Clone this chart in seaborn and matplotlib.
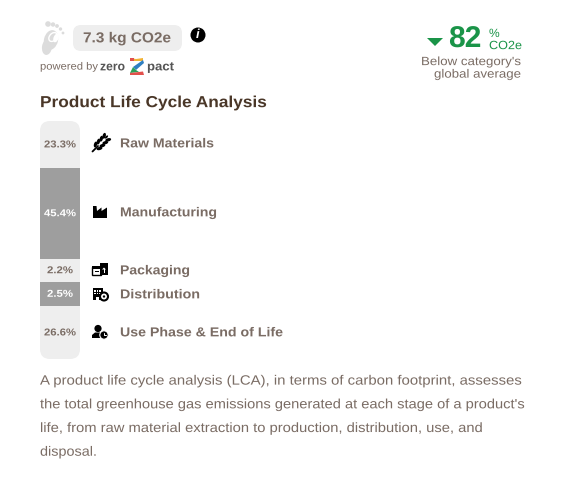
"""
Product life cycle analysis card
"""
import matplotlib
matplotlib.use('Agg')
import matplotlib.pyplot as plt
import seaborn as sns
from matplotlib.patches import Circle, Ellipse, FancyBboxPatch, Polygon, Rectangle
from matplotlib.patheffects import AbstractPathEffect
from matplotlib.transforms import Affine2D

stages = ['Raw Materials', 'Manufacturing', 'Packaging', 'Distribution', 'Use Phase & End of Life']
shares = [23.3, 45.4, 2.2, 2.5, 26.6]
# the two small stages are drawn at a minimum height in the original
drawn_heights = [23.3, 45.4, 11.5, 12.0, 26.6]
bar_colors = ['#eeeeee', '#9e9e9e', '#eeeeee', '#9e9e9e', '#eeeeee']
share_colors = ['#7a6c64', '#ffffff', '#7a6c64', '#ffffff', '#7a6c64']
label_y = [144, 213, 271, 295, 333]
label_w = [94, 97, 70, 80, 163]

footprint = '7.3 kg CO2e'
delta = '82'
paragraph = [
    "A product life cycle analysis (LCA), in terms of carbon footprint, assesses",
    "the total greenhouse gas emissions generated at each stage of a product's",
    "life, from raw material extraction to production, distribution, use, and",
    "disposal.",
]
paragraph_w = [482, 485, 443, 57]

BROWN = '#7a6c64'
DARK = '#4a3728'
GREEN = '#1a9448'
W, H = 584, 480


def px(size):
    return size * 0.72


class Widen(AbstractPathEffect):
    """Stretch a text sideways, stands in for css letter-spacing"""

    def __init__(self, x0, factor):
        super().__init__()
        self.x0 = x0
        self.factor = factor

    def draw_path(self, renderer, gc, tpath, affine, rgbFace=None):
        stretch = Affine2D().translate(-self.x0, 0).scale(self.factor, 1).translate(self.x0, 0)
        renderer.draw_path(gc, tpath, affine + stretch, rgbFace)


def fit_text(ax, x, y, s, width, size, **kwargs):
    """Put text at x, y and widen it to the given pixel width"""
    t = ax.text(x, y, s, fontsize=px(size), va='center', **kwargs)
    box = t.get_window_extent(ax.figure.canvas.get_renderer())
    x0 = ax.transData.transform((x, y))[0]
    t.set_path_effects([Widen(x0, width / box.width)])
    return t


def draw_icons(ax):
    # wheat
    for i in range(4):
        ax.add_patch(Ellipse((95.5 + i * 2.9, 144.5 - i * 2.9), 6, 3.2, angle=-75, color='black', lw=0))
        ax.add_patch(Ellipse((99.5 + i * 2.9, 148.5 - i * 2.9), 6, 3.2, angle=-15, color='black', lw=0))
    ax.plot([92.5, 98], [151.5, 146], color='black', lw=1.3)
    ax.add_patch(Ellipse((106.5, 137), 4, 2, angle=-45, color='black', lw=0))
    # factory
    ax.add_patch(Polygon([(93, 218), (93, 206), (96.5, 206), (97, 211), (101.5, 207.5), (101.5, 211),
                          (107, 207.5), (107, 218)], color='black', lw=0))
    # packaging
    ax.add_patch(Rectangle((92, 267), 9, 8, fc='white', ec='black', lw=1))
    ax.add_patch(Rectangle((92, 266), 9, 2.5, color='black', lw=0))
    ax.add_patch(Rectangle((94.5, 270.5), 4, 1.2, color='black', lw=0))
    ax.add_patch(Rectangle((100, 263), 8, 12, color='black', lw=0))
    ax.add_patch(Rectangle((103.5, 268.5), 1, 4.5, color='white', lw=0))
    ax.add_patch(Polygon([(102, 269.5), (106, 269.5), (104, 267.5)], color='white', lw=0))
    # distribution
    ax.add_patch(Rectangle((92.5, 288), 10, 12, color='black', lw=0))
    for col in range(3):
        for row in range(2):
            ax.add_patch(Rectangle((94 + col * 2.6, 290 + row * 2.6), 1.5, 1.5, color='white', lw=0))
    ax.add_patch(Rectangle((96, 296.5), 3, 3.5, color='white', lw=0))
    ax.add_patch(Circle((104, 296.5), 4, fc='white', ec='black', lw=1.5))
    ax.add_patch(Circle((104, 296.5), 1.2, color='black', lw=0))
    # person with clock
    ax.add_patch(Circle((98, 328.5), 3.6, color='black', lw=0))
    ax.add_patch(Polygon([(92, 338), (92, 335), (95, 332.5), (101, 332.5), (103, 334), (103, 338)],
                         color='black', lw=0))
    ax.add_patch(Circle((104, 335), 4.2, fc='black', ec='white', lw=0.8))
    ax.plot([104, 104, 106], [333, 335.3, 335.3], color='white', lw=0.7)


def draw_header(ax):
    # footprint icon
    foot = '#dcdcdc'
    ax.add_patch(Ellipse((51, 40), 14, 20, angle=14, color=foot, lw=0))
    ax.add_patch(Ellipse((47, 47), 10, 16, angle=8, color=foot, lw=0))
    ax.add_patch(Ellipse((53, 37), 7, 10, angle=40, fc='none', ec='white', lw=1))
    ax.add_patch(Ellipse((56, 38), 5, 9, angle=20, color='#ffffff', lw=0))
    for x, y, r in [(48, 24, 2.8), (53, 24.5, 2.2), (57, 26, 1.9), (60.5, 29, 1.7), (63, 33, 1.4)]:
        ax.add_patch(Circle((x, y), r, color=foot, lw=0))

    ax.add_patch(FancyBboxPatch((73, 25), 109, 26, boxstyle='round,pad=0,rounding_size=8',
                                fc='#eeeeee', ec='none'))
    fit_text(ax, 83, 38.5, footprint, 88, 14.5, fontweight='bold', color=BROWN)

    # info mark
    ax.add_patch(Circle((198, 35), 7.5, color='black', lw=0))
    ax.text(198, 35, 'i', fontsize=px(13), color='white', fontweight='bold', style='italic',
            ha='center', va='center')

    fit_text(ax, 40, 67, 'powered by', 58, 10.5, color=BROWN)
    fit_text(ax, 100, 67, 'zero', 25, 12.5, color='#555555', fontweight='bold')
    fit_text(ax, 147, 67, 'pact', 27, 12.5, color='#555555', fontweight='bold')
    # logo
    ax.add_patch(Polygon([(130, 58), (136, 59), (143, 58), (143, 61), (130, 61)], color='#f2b233', lw=0))
    ax.add_patch(Polygon([(130, 58), (134, 58), (134, 61), (130, 61)], color='#e2504c', lw=0))
    ax.add_patch(Polygon([(143, 60), (144, 63), (136, 70), (133, 67)], color='#2f7fc1', lw=0))
    ax.add_patch(Polygon([(133, 67), (136, 70), (139, 72), (130, 73)], color='#2ca05a', lw=0))
    ax.add_patch(Polygon([(130, 73), (143, 71.5), (144, 75), (130, 75)], color='#e2504c', lw=0))

    fit_text(ax, 40, 103, 'Product Life Cycle Analysis', 227, 16, fontweight='bold', color=DARK)

    # below average block
    ax.add_patch(Polygon([(427, 38), (443, 38), (435, 46)], color=GREEN, lw=0))
    ax.text(448.5, 40, delta, fontsize=px(30), fontweight='bold', color=GREEN, va='center')
    ax.text(489, 33.5, '%', fontsize=px(12), color=GREEN, va='center')
    fit_text(ax, 489, 46, 'CO2e', 33, 12, color=GREEN)
    fit_text(ax, 521, 62, "Below category's", 100, 12, color=BROWN, ha='right')
    fit_text(ax, 521, 74.5, 'global average', 87, 12, color=BROWN, ha='right')


def main():
    sns.set_theme(style='white')
    plt.rcParams['font.family'] = ['Liberation Sans', 'DejaVu Sans']
    plt.rcParams['text.hinting'] = 'no_hinting'

    fig = plt.figure(figsize=(W / 100, H / 100), dpi=100, facecolor='white')
    page = fig.add_axes([0, 0, 1, 1])
    page.set_xlim(0, W)
    page.set_ylim(H, 0)
    page.axis('off')
    page.set_zorder(2)

    bar_top, bar_h = 121, 238
    ax = fig.add_axes([40 / W, 1 - (bar_top + bar_h) / H, 40 / W, bar_h / H])
    clip = FancyBboxPatch((40, bar_top), 40, bar_h, boxstyle='round,pad=0,rounding_size=10',
                          transform=page.transData, fc='none', ec='none')
    page.add_patch(clip)

    bottom = 0
    for h, color in zip(drawn_heights, bar_colors):
        sns.barplot(x=['stage'], y=[h], bottom=bottom, color=color, saturation=1, width=1,
                    linewidth=0, ax=ax)
        bottom += h
    for bar in ax.patches:
        bar.set_clip_path(clip)
    ax.set_xlim(-0.5, 0.5)
    ax.set_ylim(bottom, 0)
    ax.axis('off')

    # share labels go on the page so they can be fitted in pixels
    top = bar_top
    for h, share, txt_color in zip(drawn_heights, shares, share_colors):
        mid = top + h * bar_h / bottom / 2
        width = 32 if share >= 10 else 26
        fit_text(page, 60 - width / 2, mid + 0.5, f'{share}%', width, 10, fontweight='bold',
                 color=txt_color)
        top += h * bar_h / bottom

    for stage, y, w in zip(stages, label_y, label_w):
        fit_text(page, 120, y, stage, w, 13, fontweight='bold', color=BROWN)

    draw_icons(page)
    draw_header(page)

    for i, (line, w) in enumerate(zip(paragraph, paragraph_w)):
        fit_text(page, 40, 381 + i * 23.7, line, w, 13.5, color=BROWN)

    fig.savefig('out.png', dpi=100)
    plt.close(fig)


if __name__ == "__main__":
    main()
